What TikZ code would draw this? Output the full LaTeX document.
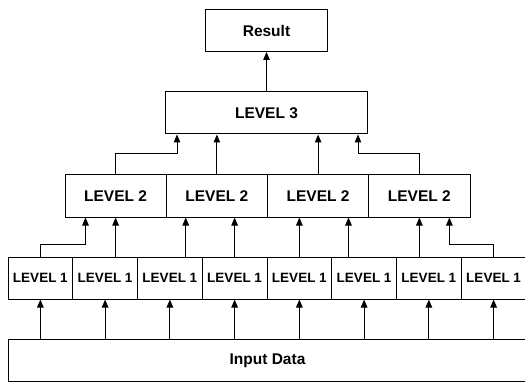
\documentclass[tikz,border=0pt]{standalone}
\usepackage{fontspec}
\setmainfont{Liberation Sans}
\usetikzlibrary{arrows.meta}

\begin{document}
\begin{tikzpicture}[x = 1pt, y = -1pt, line width = 1pt,
  box/.style = {draw, inner sep = 0, minimum height = 42pt, font = \fontsize{15.5}{18}\selectfont\bfseries},
  lone/.style = {box, minimum width = 64.75pt, font = \fontsize{13.5}{16}\selectfont\bfseries},
  ltwo/.style = {box, minimum width = 101.25pt},
  arr/.style = {-{Triangle[length = 8pt, width = 6.5pt]}}]

\useasboundingbox (0, 0) rectangle (525, 385);

\node[box, minimum width = 122pt] (res) at (266.5, 30.5) {Result};
\node[box, minimum width = 202pt] (l3) at (266.5, 113) {LEVEL 3};

\foreach \n [count = \i from 0] in {a, b, c, d}
  \node[ltwo] (l2\n) at (65 + 101.25*\i + 50.625, 196) {LEVEL 2};

\foreach \n [count = \i from 0] in {a, b, c, d, e, f, g, h}
  \node[lone] (l1\n) at (8 + 64.75*\i + 32.375, 278) {LEVEL 1};

\node[box, minimum width = 519pt] (inp) at (267.5, 360.5) {Input Data};

% level 3 -> result
\draw[arr] (l3.north) -- (res.south);

% level 2 -> level 3
\draw[arr] (l2a.north) -- ++(0, -21) -| ([xshift = 12pt]l3.south west);
\draw[arr] (l2b.north) -- (l2b.north |- l3.south);
\draw[arr] (l2c.north) -- (l2c.north |- l3.south);
\draw[arr] (l2d.north) -- ++(0, -21) -| ([xshift = -10pt]l3.south east);

% level 1 -> level 2
\draw[arr] (l1a.north) -- ++(0, -12) -| ([xshift = 21pt]l2a.south west);
\draw[arr] (l2a.south |- l1b.north) -- (l2a.south);
\draw[arr] ([xshift = 20pt]l2b.south west |- l1c.north) -- ([xshift = 20pt]l2b.south west);
\draw[arr] (l1d.north) -- (l1d.north |- l2b.south);
\draw[arr] (l1e.north) -- (l1e.north |- l2c.south);
\draw[arr] ([xshift = -20.75pt]l2c.south east |- l1f.north) -- ([xshift = -20.75pt]l2c.south east);
\draw[arr] (l2d.south |- l1g.north) -- (l2d.south);
\draw[arr] (l1h.north) -- ++(0, -12) -| ([xshift = 30pt]l2d.south);

% input -> level 1
\foreach \n in {a, b, c, d, e, f, g, h}
  \draw[arr] (l1\n.south |- inp.north) -- (l1\n.south);

\end{tikzpicture}
\end{document}
